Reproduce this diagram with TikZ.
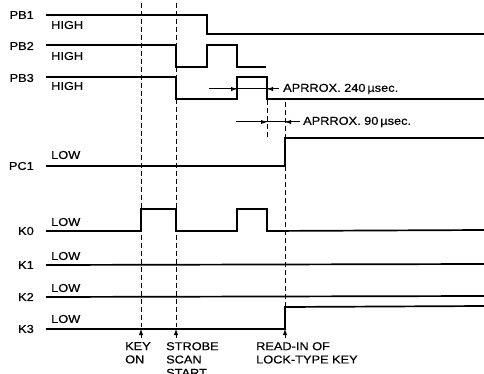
\documentclass[tikz,border=0pt]{standalone}
\usepackage{fontspec}
\setmainfont{Liberation Sans}[FakeStretch=1.12,FakeBold=0.4]
\usetikzlibrary{arrows.meta,positioning}

\begin{document}
\begin{tikzpicture}[x=1pt,y=-1pt,
    sig/.style={line width=1.7pt},
    guide/.style={line width=1pt, dash pattern=on 5pt off 3pt},
    dim/.style={line width=1pt},
    lbl/.style={font=\fontsize{11.4}{13.3}\selectfont, inner sep=0pt, align=left},
    >={Latex[length=6pt,width=4.5pt]}]
    \useasboundingbox (0,0) rectangle (484,374);

    % Signal names
    \node[lbl, anchor=east] (pb1) at (34,15) {PB1};
    \node[lbl, anchor=east] (pb2) at (34,46) {PB2};
    \node[lbl, anchor=east] (pb3) at (34,78) {PB3};
    \node[lbl, anchor=east] (pc1) at (34,166) {PC1};
    \node[lbl, anchor=east] (k0) at (34,231) {K0};
    \node[lbl, anchor=east] (k1) at (34,265) {K1};
    \node[lbl, anchor=east] (k2) at (34,297) {K2};
    \node[lbl, anchor=east] (k3) at (34,329) {K3};

    % Levels
    \node[lbl, anchor=west] (pb1lvl) at (51,25) {HIGH};
    \node[lbl, anchor=west] (pb2lvl) at (51,56) {HIGH};
    \node[lbl, anchor=west] (pb3lvl) at (51,86) {HIGH};
    \node[lbl, anchor=west] (pc1lvl) at (51,155) {LOW};
    \node[lbl, anchor=west] (k0lvl) at (51,222) {LOW};
    \node[lbl, anchor=west] (k1lvl) at (51,256) {LOW};
    \node[lbl, anchor=west] (k2lvl) at (51,288) {LOW};
    \node[lbl, anchor=west] (k3lvl) at (51,319) {LOW};

    % Waveforms
    \draw[sig] (46,15) -- (207,15) -- (207,34) -- (484,34);
    \draw[sig] (46,45) -- (176,45) -- (176,67) -- (207,67) -- (207,45) -- (237,45) -- (237,67) -- (266,67);
    \draw[sig] (46,77) -- (176,77) -- (176,99) -- (237,99) -- (237,77) -- (267,77) -- (267,99) -- (484,99);
    \draw[sig] (46,166) -- (285,166) -- (285,138) -- (484,138);
    \draw[sig] (46,231) -- (141,231) -- (141,209) -- (176,209) -- (176,231) -- (237,231) -- (237,209) -- (267,209) -- (267,231) -- (484,230);
    \draw[sig] (46,265) -- (484,264);
    \draw[sig] (46,297) -- (484,296);
    \draw[sig] (46,329) -- (285,329) -- (285,307) -- (484,306);

    % Timing guides
    \draw[guide] (141,3) -- (141,327);
    \draw[guide] (176,3) -- (176,327);
    \draw[guide] (267,100) -- (267,140);
    \draw[guide] (285,102) -- (285,306);

    % Approx. 240 usec
    \coordinate (w240a) at (209,89);
    \coordinate (w240b) at (237,89);
    \coordinate (w240c) at (267,89);
    \coordinate (w240d) at (279,89);
    \draw[dim] (w240a) -- (w240d);
    \draw[dim,->] (w240a) -- (w240b);
    \draw[dim,->] (w240d) -- (w240c);
    \node[lbl, anchor=west] (t240) at (283,89) {APRROX. 240\,µsec.};

    % Approx. 90 usec
    \coordinate (w90a) at (236,122);
    \coordinate (w90b) at (267,122);
    \coordinate (w90c) at (285,122);
    \coordinate (w90d) at (300,122);
    \draw[dim] (w90a) -- (w90d);
    \draw[dim,->] (w90a) -- (w90b);
    \draw[dim,->] (w90d) -- (w90c);
    \node[lbl, anchor=west] (t90) at (303,122) {APRROX. 90\,µsec.};

    % Events
    \coordinate (keyon) at (141,329);
    \coordinate (strobe) at (176,329);
    \coordinate (readin) at (285,329);
    \draw[dim,->] (141,338) -- (keyon);
    \draw[dim,->] (176,338) -- (strobe);
    \draw[dim,->] (285,338) -- (readin);
    \node[lbl, anchor=north west] (keytxt) at (125,342) {KEY\\ON};
    \node[lbl, anchor=north west] (strobetxt) at (166,342) {STROBE\\SCAN\\START};
    \node[lbl, anchor=north west] (readtxt) at (256,342) {READ-IN OF\\LOCK-TYPE KEY};
\end{tikzpicture}
\end{document}
